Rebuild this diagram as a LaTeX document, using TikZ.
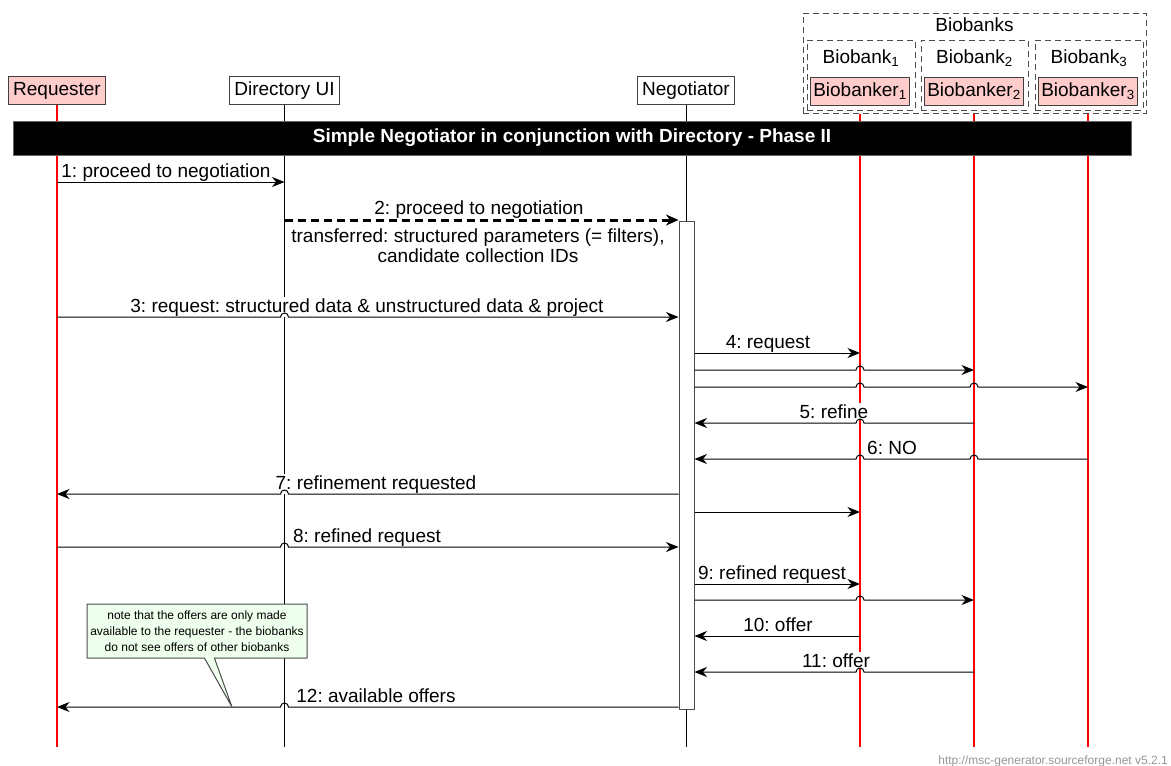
\documentclass[tikz,border=0pt]{standalone}
\usepackage{fontspec}
\setmainfont{Liberation Sans}
\usetikzlibrary{arrows.meta,calc,shapes.callouts}
\definecolor{actpink}{RGB}{255,204,204}
\definecolor{notegreen}{RGB}{238,255,238}
\definecolor{footgray}{RGB}{150,150,150}
\newcommand\jumpR[2]{-- ($(#1 |- 0,#2)+(-4,0)$) arc[start angle=180,end angle=0,radius=4pt]}
\newcommand\jumpL[2]{-- ($(#1 |- 0,#2)+(4,0)$) arc[start angle=0,end angle=180,radius=4pt]}
\frenchspacing
\begin{document}
\frenchspacing
\begin{tikzpicture}[x=1pt,y=-1pt,
  every node/.style={font=\fontsize{19}{22}\selectfont, inner sep=0pt},
  actor/.style={draw=black!75, line width=1pt, minimum height=28pt, inner xsep=5pt, text height=14pt, text depth=4pt},
  redactor/.style={actor, fill=actpink, minimum width=99pt, inner xsep=2pt},
  grp/.style={draw=black!70, line width=1pt, dash pattern=on 6pt off 4pt},
  redline/.style={draw=red, line width=2pt},
  blkline/.style={draw=black, line width=0.9pt},
  msg/.style={line width=1pt, -{Stealth[length=12.5pt,width=10pt,inset=4pt]}},
  dmsg/.style={line width=3pt, dash pattern=on 8pt off 5pt, -{Stealth[length=12.5pt,width=11pt,inset=4pt]}},
  lbl/.style={fill=white, inner sep=1pt, anchor=base},
]
\useasboundingbox (0,0) rectangle (1171,766);

% groups
\node[grp, minimum width=343pt, minimum height=100pt] (gall) at (974.5,63) {};
\node (gtitle) at (974.5,25) {Biobanks};
\node[grp, minimum width=108pt, minimum height=70pt] (g1) at (861,75) {};
\node[grp, minimum width=107pt, minimum height=70pt] (g2) at (974.5,75) {};
\node[grp, minimum width=108pt, minimum height=70pt] (g3) at (1089,75) {};
\node (g1t) at (861,58) {Biobank\textsubscript{1}};
\node (g2t) at (974.5,58) {Biobank\textsubscript{2}};
\node (g3t) at (1089,58) {Biobank\textsubscript{3}};

% actors
\node[actor, fill=actpink] (req) at (57,90) {Requester};
\node[actor] (dir) at (284.5,90) {Directory UI};
\node[actor] (neg) at (686,90) {Negotiator};
\node[redactor] (bb1) at (860,91) {Biobanker\textsubscript{1}};
\node[redactor] (bb2) at (974,91) {Biobanker\textsubscript{2}};
\node[redactor] (bb3) at (1088,91) {Biobanker\textsubscript{3}};

% lifeline ends
\coordinate (reqE) at (req |- 0,747);
\coordinate (dirE) at (dir |- 0,747);
\coordinate (negE) at (neg |- 0,747);
\coordinate (bb1E) at (bb1 |- 0,747);
\coordinate (bb2E) at (bb2 |- 0,747);
\coordinate (bb3E) at (bb3 |- 0,747);

\draw[redline] (req.south) -- (reqE);
\draw[blkline] (dir.south) -- (dirE);
\draw[blkline] (neg.south) -- (negE);
\draw[redline] (bb1.south |- gall.south) -- (bb1E);
\draw[redline] (bb2.south |- gall.south) -- (bb2E);
\draw[redline] (bb3.south |- gall.south) -- (bb3E);

% title bar
\node[fill=black, draw=black!60, line width=0.8pt, minimum width=1118pt, minimum height=34pt,
      text=white, font=\bfseries\fontsize{19}{22}\selectfont] (title) at (572,138)
      {Simple Negotiator in conjunction with Directory - Phase II};

% activation
\node[draw=black!70, fill=white, line width=1pt, minimum width=15pt, minimum height=488pt, anchor=north] (act) at (686.5,221) {};

% labels
\node[lbl] (l1) at (166,177) {1: proceed to negotiation};
\node[lbl] (l2) at (479,214) {2: proceed to negotiation};
\node[fill=white, inner sep=1pt, align=center, font=\fontsize{19}{20}\selectfont] (l2b) at (478,246)
  {transferred: structured parameters (= filters),\\candidate collection IDs};
\node[lbl] (l3) at (367,312) {3: request: structured data \& unstructured data \& project};
\node[lbl] (l4) at (768,348) {4: request};
\node[lbl] (l5) at (834,418) {5: refine};
\node[lbl] (l6) at (892,454) {6: NO};
\node[lbl] (l7) at (376,489) {7: refinement requested};
\node[lbl] (l8) at (367,542) {8: refined request};
\node[lbl] (l9) at (772,579) {9: refined request};
\node[lbl] (l10) at (778,631) {10: offer};
\node[lbl] (l11) at (836,667) {11: offer};
\node[lbl] (l12) at (376,702) {12: available offers};

% messages
\draw[msg] (req |- 0,182) -- (dir |- 0,182);
\draw[dmsg] (dir |- 0,220) -- (act.west |- 0,220);
\draw[msg] (req |- 0,317) \jumpR{dir}{317} -- (act.west |- 0,317);
\draw[msg] (act.east |- 0,353) -- (bb1 |- 0,353);
\draw[msg] (act.east |- 0,370) \jumpR{bb1}{370} -- (bb2 |- 0,370);
\draw[msg] (act.east |- 0,387) \jumpR{bb1}{387} \jumpR{bb2}{387} -- (bb3 |- 0,387);
\draw[msg] (bb2 |- 0,423) \jumpL{bb1}{423} -- (act.east |- 0,423);
\draw[msg] (bb3 |- 0,459) \jumpL{bb2}{459} \jumpL{bb1}{459} -- (act.east |- 0,459);
\draw[msg] (act.west |- 0,494) \jumpL{dir}{494} -- (req |- 0,494);
\draw[msg] (act.east |- 0,512) -- (bb1 |- 0,512);
\draw[msg] (req |- 0,547) \jumpR{dir}{547} -- (act.west |- 0,547);
\draw[msg] (act.east |- 0,584) -- (bb1 |- 0,584);
\draw[msg] (act.east |- 0,600) \jumpR{bb1}{600} -- (bb2 |- 0,600);
\draw[msg] (bb1 |- 0,636) -- (act.east |- 0,636);
\draw[msg] (bb2 |- 0,672) \jumpL{bb1}{672} -- (act.east |- 0,672);
\draw[msg] (act.west |- 0,707) \jumpL{dir}{707} -- (req |- 0,707);

% note
\node[rectangle callout, draw=black!70, fill=notegreen, line width=1pt, minimum width=220pt, minimum height=54pt,
      callout absolute pointer={(232,707)}, callout pointer width=10pt, align=center,
      font=\fontsize{12}{16}\selectfont] (note) at (197,631)
  {note that the offers are only made\\available to the requester - the biobanks\\do not see offers of other biobanks};

% footer
\node[anchor=base east, text=footgray, font=\fontsize{12}{14}\selectfont] (foot) at (1168,764)
  {http://msc-generator.sourceforge.net v5.2.1};
\end{tikzpicture}
\end{document}
